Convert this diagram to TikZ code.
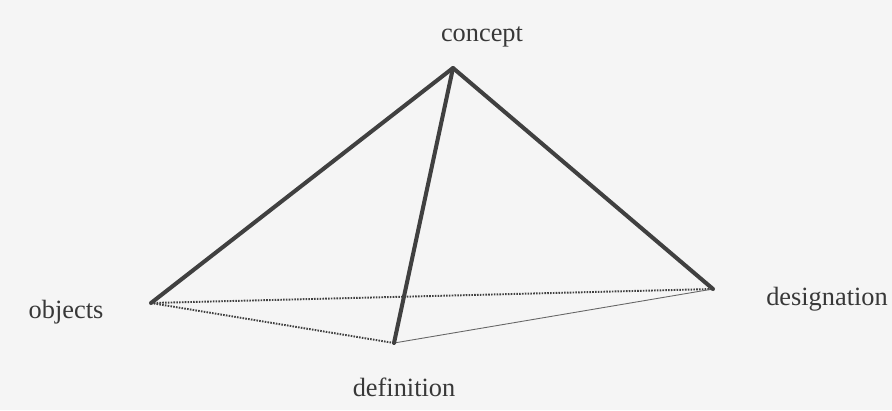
\documentclass[tikz,border=0pt]{standalone}
\usepackage{fontspec}
\setmainfont{Liberation Serif}
\begin{document}
\begin{tikzpicture}[x=0.02cm,y=-0.02cm,
  lbl/.style={font=\fontsize{15}{18}\selectfont, text=black!78, inner sep=0pt},
  edgethick/.style={draw=black!75, line width=2.3pt, line cap=round, line join=round},
  edgedot/.style={draw=black!75, line width=1.1pt, dash pattern=on 0.9pt off 0.7pt},
  edgethin/.style={draw=black!60, line width=0.5pt}]
\fill[white!96!black] (0,0) rectangle (892,410);
\useasboundingbox (0,0) rectangle (892,410);
\coordinate (c) at (453,68);
\coordinate (o) at (151,303);
\coordinate (g) at (713,289);
\coordinate (d) at (394,343);
\draw[edgedot] (o) -- (g);
\draw[edgedot] (o) -- (d);
\draw[edgethin] (d) -- (g);
\draw[edgethick] (o) -- (c) -- (g);
\draw[edgethick] (c) -- (d);
\node[lbl] (lc) at (482,37) {concept};
\node[lbl] (lo) at (66,312) {objects};
\node[lbl] (lg) at (827,299) {designation};
\node[lbl] (ld) at (404,387) {definition};
\end{tikzpicture}
\end{document}
